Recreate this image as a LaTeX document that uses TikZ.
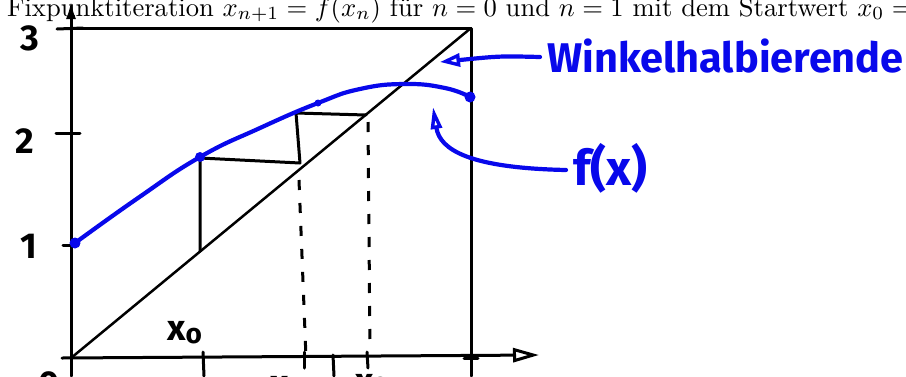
\documentclass[tikz,border=0pt]{standalone}
\usepackage{fontspec}
\newfontfamily\hand{Fira Sans}
\usetikzlibrary{arrows.meta}
\definecolor{pen}{RGB}{8,8,235}
\begin{document}
\begin{tikzpicture}[x=1pt,y=-1pt,
  ink/.style={line width=3pt,black,line cap=round,line join=round},
  blue pen/.style={line width=4.2pt,pen,line cap=round,line join=round},
  digit/.style={font=\hand\bfseries\fontsize{36}{40}\selectfont,inner sep=0pt},
  bluelabel/.style={font=\hand\bfseries\fontsize{41.5}{46}\selectfont,text=pen,inner sep=0pt,anchor=base west},
  dashline/.style={line width=3pt,black,dash pattern=on 10pt off 13pt},
  dot/.style={circle,fill=pen,inner sep=0pt,minimum size=#1}
]
\clip (0,0) rectangle (906,376);
\useasboundingbox (0,0) rectangle (906,376);
\fill[white] (0,0) rectangle (906,376);
% caption
\node[anchor=base west,inner sep=0pt] (cap) at (7,16)
  {\scalebox{2.66}{\normalsize Fixpunktiteration $x_{n+1} = f(x_n)$ für $n=0$ und $n=1$ mit dem Startwert $x_0 =$}};
% coordinates
\coordinate (O) at (71,358);
\coordinate (TL) at (71,28);
\coordinate (TR) at (471,28);
\coordinate (BR) at (471,376);
\coordinate (ytop) at (71,1);
\coordinate (xend) at (539,355);
\coordinate (xstart) at (62,358);
% box and axes
\draw[ink] (TL) -- (TR) -- (BR);
\draw[ink,-{Latex[length=18pt,width=10pt]}] (71,376) -- (ytop);
\draw[ink,-{Triangle[open,length=26pt,width=14pt,line width=3pt]}] (xstart) -- (xend);
% diagonal
\draw[line width=2.5pt,line cap=round] (O) -- (TR);
% y ticks
\draw[ink] (57,29) -- (83,28);
\draw[ink] (56,133) -- (80,133);
\draw[ink] (63,245) -- (78,245);
% x ticks
\draw[ink] (203,352) -- (204,376);
\draw[ink] (304,352) -- (304,368);
\draw[ink] (333,355) -- (334,376);
\draw[ink] (367,352) -- (368,368);
\draw[ink] (464,358) -- (478,358);
% labels
\node[digit] (l3) at (30,38) {3};
\node[digit] (l2) at (25,141) {2};
\node[digit] (l1) at (29,246) {1};
\node[digit] (l0) at (49,384) {0};
\node[digit,anchor=base west] (lx0) at (167,340) {x\raisebox{-3pt}{\fontsize{28}{30}\selectfont o}};
\node[digit,anchor=base west] (lx1) at (270,395) {x\raisebox{-3pt}{\fontsize{28}{30}\selectfont 1}};
\node[digit,anchor=base west] (lx2) at (355,393) {x\raisebox{-3pt}{\fontsize{28}{30}\selectfont 2}};
% cobweb
\coordinate (d0) at (200,251);
\coordinate (f0) at (200,158);
\coordinate (f1) at (296,113);
\coordinate (d2) at (366,115);
\draw[ink] (d0) -- (f0) -- (300,163) -- (f1) -- (d2);
% dashed verticals
\draw[dashline] (299,180) -- (306,358);
\draw[dashline] (368,122) -- (370,350);
% blue curve f(x)
\coordinate (p0) at (75,243);
\coordinate (p1) at (200,157);
\coordinate (p2) at (318,103);
\coordinate (p3) at (470,97);
\draw[blue pen] plot[smooth,tension=0.8] coordinates
  {(p0) (138,198) (p1) (260,128) (p2) (360,89) (405,84) (445,88) (p3)};
\node[dot=11pt] (n0) at (p0) {};
\node[dot=10pt] (n1) at (p1) {};
\node[dot=7pt] (n2) at (p2) {};
\node[dot=11pt] (n3) at (p3) {};
% labels with arrows
\node[bluelabel] (wh) at (547,72) {Winkelhalbierende};
\node[bluelabel,font=\hand\bfseries\fontsize{49}{52}\selectfont] (fx) at (573,185) {f(x)};
\coordinate (wa) at (440,62);
\coordinate (fa) at (433,107);
\coordinate (ws) at (540,57);
\coordinate (fs) at (566,170);
\draw[blue pen,-{Triangle[open,length=20pt,width=13pt,line width=3.4pt]}] (ws) .. controls (500,56) .. (wa);
\draw[blue pen,-{Triangle[open,length=22pt,width=11pt,line width=3.4pt]}] (fs) .. controls (470,168) and (440,150) .. (fa);
\end{tikzpicture}
\end{document}
